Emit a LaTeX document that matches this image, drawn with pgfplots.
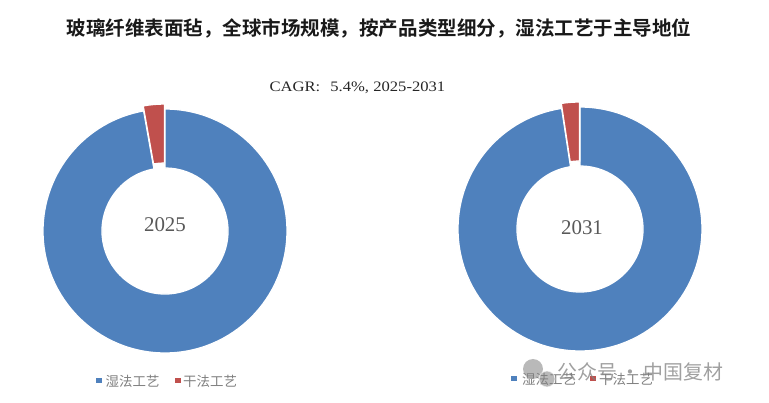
\documentclass[border=0pt]{standalone}
\usepackage{pgfplots}
\pgfplotsset{compat=1.18}
\usepackage{pgfplotstable}
\usepackage{fontspec}
\setmainfont{Liberation Serif}
\newfontfamily\widefont{Liberation Serif}[FakeStretch=1.15]
\newfontfamily\cjk{Noto Sans CJK SC}[BoldFont={Noto Sans CJK SC Bold}]
\definecolor{wetblue}{HTML}{4F81BD}
\definecolor{dryred}{HTML}{C0504D}
\definecolor{txtgray}{HTML}{595959}
\definecolor{leggray}{HTML}{7F7F7F}

% share of each process (%)
\pgfplotstableread{
year wet dry
2025 97.2 2.8
2031 97.6 2.4
}\shares
\pgfplotstablegetelem{0}{wet}\of\shares \let\wetA\pgfplotsretval
\pgfplotstablegetelem{0}{dry}\of\shares \let\dryA\pgfplotsretval
\pgfplotstablegetelem{1}{wet}\of\shares \let\wetB\pgfplotsretval
\pgfplotstablegetelem{1}{dry}\of\shares \let\dryB\pgfplotsretval

\pgfmathsetmacro\endA{90-3.6*\wetA}
\pgfmathsetmacro\stopA{\endA-3.6*\dryA}
\pgfmathsetmacro\midA{\endA-1.8*\dryA}
\pgfmathsetmacro\endB{90-3.6*\wetB}
\pgfmathsetmacro\stopB{\endB-3.6*\dryB}
\pgfmathsetmacro\midB{\endB-1.8*\dryB}

% centres (in px of the reference, y upward)
\def\cxA{165}\def\cyA{172}
\def\cxB{580}\def\cyB{174}
\pgfmathsetmacro\exA{\cxA+5*cos(\midA)}
\pgfmathsetmacro\eyA{\cyA+5*sin(\midA)}
\pgfmathsetmacro\exB{\cxB+5*cos(\midB)}
\pgfmathsetmacro\eyB{\cyB+5*sin(\midB)}

% #1 cx, #2 cy, #3 start angle, #4 end angle, #5 colour
\newcommand\ring[5]{%
  \fill[#5, draw=white, line width=1.3pt]
    ([shift={(#3:122bp)}]axis cs:#1,#2) arc[start angle=#3, end angle=#4, radius=122bp]
    -- ([shift={(#4:63bp)}]axis cs:#1,#2) arc[start angle=#4, end angle=#3, radius=63bp]
    -- cycle;}

\begin{document}
\begin{tikzpicture}
\begin{axis}[
  x=1bp, y=1bp,
  xmin=0, xmax=769, ymin=0, ymax=403,
  hide axis, clip=false,
  at={(0,0)}, anchor=south west,
]
% donuts
\ring{\cxA}{\cyA}{90}{\endA}{wetblue}
\ring{\exA}{\eyA}{\endA}{\stopA}{dryred}
\ring{\cxB}{\cyB}{90}{\endB}{wetblue}
\ring{\exB}{\eyB}{\endB}{\stopB}{dryred}

% title and subtitle
\node[font=\cjk\bfseries\fontsize{19.6}{22}\selectfont, text=black!90] at (axis cs:379,375)
  {玻璃纤维表面毡，全球市场规模，按产品类型细分，湿法工艺于主导地位};
\node[font=\widefont\fontsize{14.5}{16}\selectfont, text=black!85, anchor=west] at (axis cs:266,315)
  {CAGR:\hspace{0.7em}5.4\%, 2025-2031};

% centre labels
\node[font=\fontsize{21}{22}\selectfont, text=txtgray] at (axis cs:165,178) {2025};
\node[font=\fontsize{21}{22}\selectfont, text=txtgray] at (axis cs:582,175) {2031};

% legends
\fill[wetblue] (axis cs:96,19.5) rectangle (axis cs:101.5,25);
\node[font=\cjk\fontsize{13.5}{14}\selectfont, text=leggray, anchor=west, inner sep=0pt] at (axis cs:105.5,22) {湿法工艺};
\fill[dryred] (axis cs:175,19.5) rectangle (axis cs:180.5,25);
\node[font=\cjk\fontsize{13.5}{14}\selectfont, text=leggray, anchor=west, inner sep=0pt] at (axis cs:183,22) {干法工艺};

\fill[wetblue] (axis cs:511,21.5) rectangle (axis cs:516.5,27);
\node[font=\cjk\fontsize{13.5}{14}\selectfont, text=leggray, anchor=west, inner sep=0pt] at (axis cs:522,24) {湿法工艺};
\fill[dryred] (axis cs:590,21.5) rectangle (axis cs:595.5,27);
\node[font=\cjk\fontsize{13.5}{14}\selectfont, text=leggray, anchor=west, inner sep=0pt] at (axis cs:599,24) {干法工艺};

% watermark
\fill[gray, opacity=0.55] (axis cs:533,34) circle[radius=10bp];
\fill[gray, opacity=0.55, draw=white, line width=1pt] (axis cs:547,24) circle[radius=8bp];
\node[font=\cjk\fontsize{20}{22}\selectfont, text=gray, opacity=0.75, anchor=west, inner sep=0pt] at (axis cs:557,31) {公众号\,·\,中国复材};
\end{axis}
\pgfresetboundingbox
\path (0,0) rectangle (769bp,403bp);
\end{tikzpicture}
\end{document}
